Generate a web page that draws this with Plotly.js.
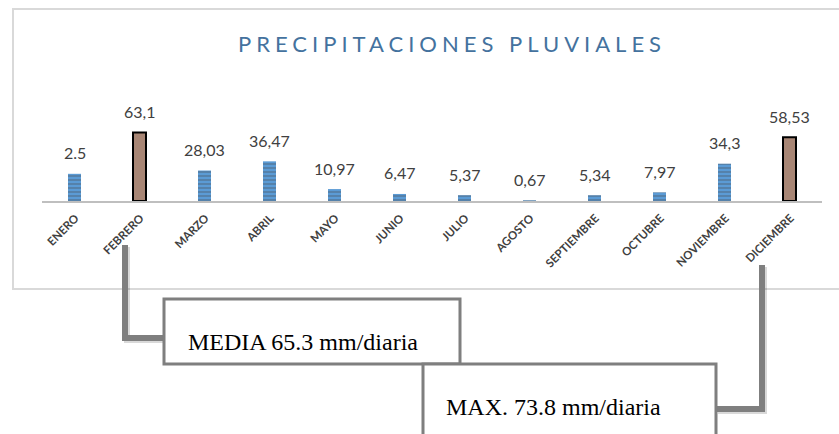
<!DOCTYPE html>
<html>
<head>
<meta charset="utf-8">
<script src="https://cdn.plot.ly/plotly-3.0.1.min.js"></script>
<style>
html,body{margin:0;padding:0;background:#fff;}
#chart{width:839px;height:434px;}
.gtitle{letter-spacing:5px;}
</style>
</head>
<body>
<div id="chart"></div>
<script>
// ---- data ----
const months = ['ENERO','FEBRERO','MARZO','ABRIL','MAYO','JUNIO','JULIO','AGOSTO','SEPTIEMBRE','OCTUBRE','NOVIEMBRE','DICIEMBRE'];
const values = [25, 63.1, 28.03, 36.47, 10.97, 6.47, 5.37, 0.67, 5.34, 7.97, 34.3, 58.53];
const valueLabels = ['2.5','63,1','28,03','36,47','10,97','6,47','5,37','0,67','5,34','7,97','34,3','58,53'];
const highlighted = ['FEBRERO','DICIEMBRE'];
const mediaText = 'MEDIA 65.3 mm/diaria';
const maxText = 'MAX. 73.8 mm/diaria';

// ---- layout helpers (pixel -> paper) ----
const W = 839, H = 434;
const L = 42, R = 822, T = 114, B = 201;
const px = v => (v - L) / (R - L);
const py = v => (B - v) / (B - T);

const isHi = months.map(m => highlighted.includes(m));
const barTrace = {
  type: 'bar',
  x: months,
  y: values,
  width: 0.2,
  hoverinfo: 'none',
  marker: {
    color: isHi.map(h => h ? '#a88675' : '#5b9bd5'),
    line: { width: isHi.map(h => h ? 2 : 0), color: isHi.map(h => h ? '#000000' : 'rgba(0,0,0,0)') },
    pattern: {
      shape: isHi.map(h => h ? '' : '-'),
      fillmode: 'overlay',
      fgcolor: '#a7c8ea',
      size: 4,
      solidity: 0.3
    }
  }
};

const annotations = months.map((m, i) => ({
  x: m, y: values[i], xref: 'x', yref: 'y',
  text: valueLabels[i], showarrow: false,
  yanchor: 'middle', yshift: 21,
  font: { family: 'Lato, sans-serif', size: 16, color: '#404040' }
}));

annotations.push({
  xref: 'paper', yref: 'paper', x: px(186), y: py(342), xanchor: 'left', yanchor: 'middle',
  text: mediaText, showarrow: false,
  font: { family: 'Liberation Serif, Times New Roman, serif', size: 24, color: '#000' }
});
annotations.push({
  xref: 'paper', yref: 'paper', x: px(444), y: py(407), xanchor: 'left', yanchor: 'middle',
  text: maxText, showarrow: false,
  font: { family: 'Liberation Serif, Times New Roman, serif', size: 24, color: '#000' }
});

const grey = '#7f7f7f';
const shapes = [
  // outer chart border
  { type: 'rect', xref: 'paper', yref: 'paper', x0: px(13), x1: px(850), y0: py(9), y1: py(289),
    line: { color: '#d9d9d9', width: 2 }, fillcolor: 'rgba(0,0,0,0)', layer: 'below' },
  // connector shadows
  { type: 'path', xref: 'paper', yref: 'paper',
    path: `M ${px(127)} ${py(247)} L ${px(127)} ${py(340)} L ${px(165)} ${py(340)}`,
    line: { color: 'rgba(0,0,0,0.15)', width: 6 } },
  { type: 'path', xref: 'paper', yref: 'paper',
    path: `M ${px(764)} ${py(267)} L ${px(764)} ${py(411)} L ${px(718)} ${py(411)}`,
    line: { color: 'rgba(0,0,0,0.15)', width: 6 } },
  // connectors
  { type: 'path', xref: 'paper', yref: 'paper',
    path: `M ${px(125)} ${py(245)} L ${px(125)} ${py(338)} L ${px(164)} ${py(338)}`,
    line: { color: grey, width: 6 } },
  { type: 'path', xref: 'paper', yref: 'paper',
    path: `M ${px(762)} ${py(265)} L ${px(762)} ${py(409)} L ${px(716)} ${py(409)}`,
    line: { color: grey, width: 6 } },
  // boxes
  { type: 'rect', xref: 'paper', yref: 'paper', x0: px(164), x1: px(460), y0: py(299), y1: py(364),
    line: { color: grey, width: 3 }, fillcolor: '#ffffff' },
  { type: 'rect', xref: 'paper', yref: 'paper', x0: px(423), x1: px(716), y0: py(364), y1: py(445),
    line: { color: grey, width: 3 }, fillcolor: '#ffffff' }
];

const layout = {
  width: W, height: H,
  margin: { l: L, r: W - R, t: T, b: H - B },
  paper_bgcolor: '#ffffff', plot_bgcolor: 'rgba(0,0,0,0)',
  showlegend: false,
  bargap: 0.8,
  title: {
    text: 'PRECIPITACIONES PLUVIALES',
    xref: 'container', yref: 'container',
    x: 452 / W, y: 1 - 44 / H, xanchor: 'center', yanchor: 'middle',
    font: { family: 'Lato, sans-serif', size: 22, color: '#44729e' }
  },
  xaxis: {
    type: 'category',
    showline: true, linecolor: '#bfbfbf', linewidth: 2,
    showgrid: false, zeroline: false, ticks: '',
    tickangle: -45,
    ticklabelshift: 1,
    ticklabelstandoff: 4,
    tickfont: { family: 'Lato, sans-serif', size: 11.5, color: '#404040', weight: 'bold' },
    fixedrange: true
  },
  yaxis: {
    visible: false, range: [0, 80], fixedrange: true
  },
  annotations: annotations,
  shapes: shapes
};

Plotly.newPlot('chart', [barTrace], layout, { displayModeBar: false, staticPlot: true });
</script>
</body>
</html>
